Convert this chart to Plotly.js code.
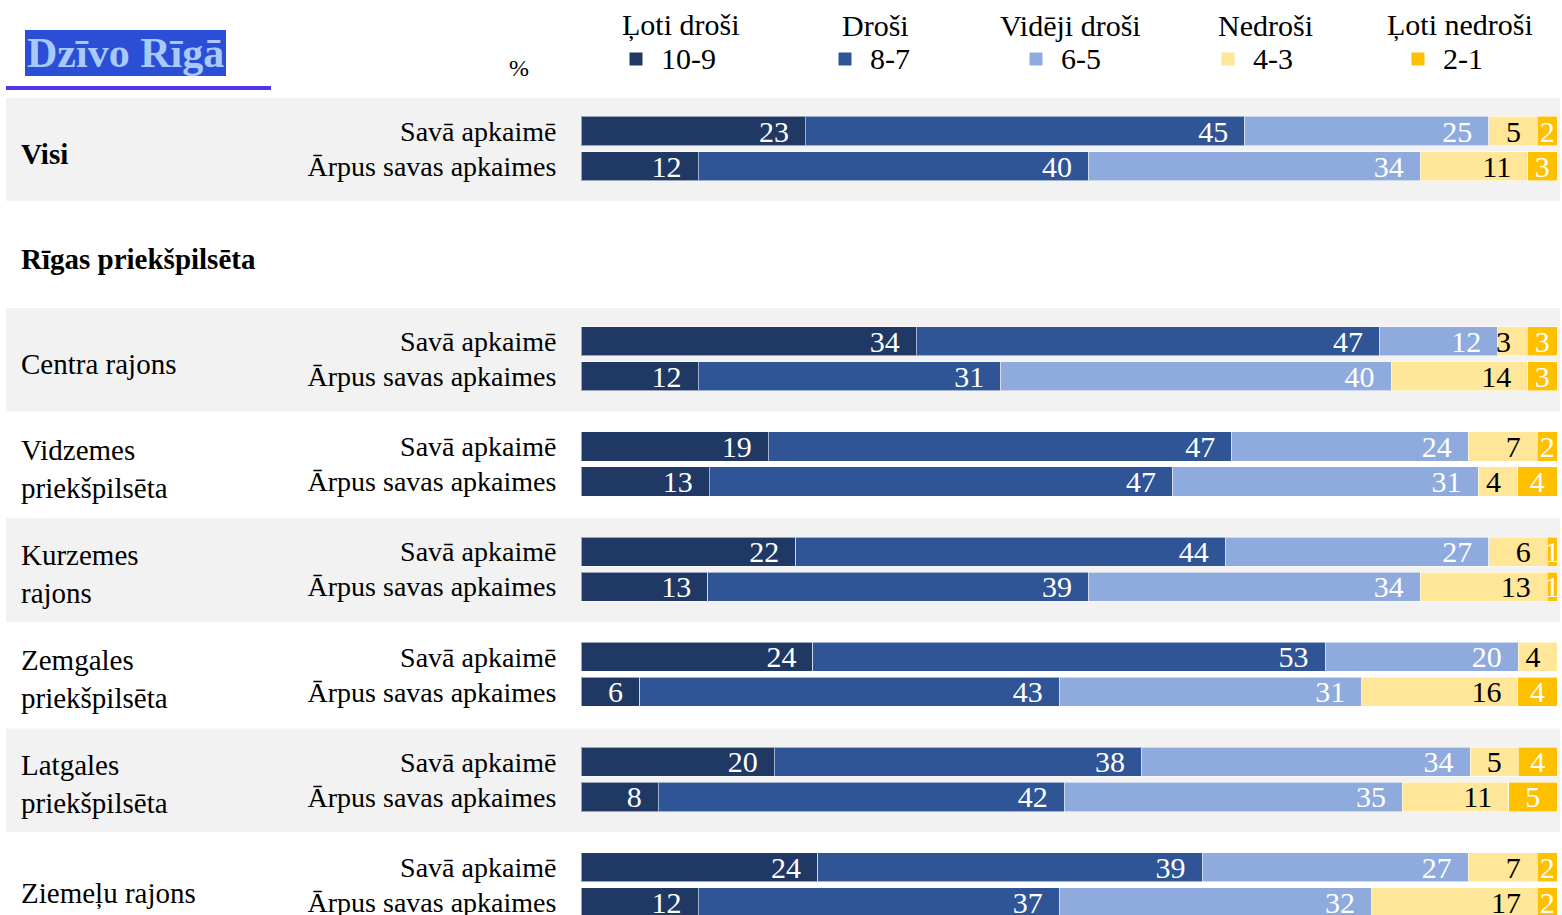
<!DOCTYPE html>
<html>
<head>
<meta charset="utf-8">
<script src="https://cdn.plot.ly/plotly-3.0.1.min.js"></script>
<style>
  html, body { margin: 0; padding: 0; background: #ffffff; }
  #chart { width: 1562px; height: 915px; }
</style>
</head>
<body>
<div id="chart"></div>
<script>
// ---------------- DATA ----------------
const groupNames = ['Visi', 'Rīgas priekšpilsēta', 'Centra rajons', 'Vidzemes<br>priekšpilsēta',
  'Kurzemes<br>rajons', 'Zemgales<br>priekšpilsēta', 'Latgales<br>priekšpilsēta', 'Ziemeļu rajons'];
const boldGroups = ['Visi', 'Rīgas priekšpilsēta'];
const headerOnlyGroups = ['Rīgas priekšpilsēta'];
const shadedGroups = ['Visi', 'Centra rajons', 'Kurzemes<br>rajons', 'Latgales<br>priekšpilsēta'];
const rowTypes = ['Savā apkaimē', 'Ārpus savas apkaimes'];

const seriesNames = ['Ļoti droši', 'Droši', 'Vidēji droši', 'Nedroši', 'Ļoti nedroši'];
const seriesCodes = ['10-9', '8-7', '6-5', '4-3', '2-1'];

// rows: Visi (savā, ārpus), Centra, Vidzemes, Kurzemes, Zemgales, Latgales, Ziemeļu
const v10_9 = [23, 12, 34, 12, 19, 13, 22, 13, 24, 6, 20, 8, 24, 12];
const v8_7  = [45, 40, 47, 31, 47, 47, 44, 39, 53, 43, 38, 42, 39, 37];
const v6_5  = [25, 34, 12, 40, 24, 31, 27, 34, 20, 31, 34, 35, 27, 32];
const v4_3  = [5, 11, 3, 14, 7, 4, 6, 13, 4, 16, 5, 11, 7, 17];
const v2_1  = [2, 3, 3, 3, 2, 4, 1, 1, 0, 4, 4, 5, 2, 2];

// ---------------- STYLE ----------------
const seriesValues = [v10_9, v8_7, v6_5, v4_3, v2_1];
const seriesColors = ['#203864', '#2F5597', '#8FAADC', '#FFE699', '#FFC000'];
const labelColors = ['#FFFFFF', '#FFFFFF', '#FFFFFF', '#000000', '#FFFFFF'];
const labelAnchors = ['end', 'end', 'end', 'end', 'middle'];
const FONT = '"Liberation Serif", "Times New Roman", serif';
const PAD = '\u00a0\u2009';
const SLOT = 3; // rows per group slot

// row positions
const rowY = [];
const tickVals = [];
const tickText = [];
groupNames.forEach((g, gi) => {
  if (headerOnlyGroups.includes(g)) return;
  rowTypes.forEach((r, ri) => {
    rowY.push(gi * SLOT + ri);
    tickVals.push(gi * SLOT + ri);
    tickText.push(r);
  });
});

const traces = seriesValues.map((vals, si) => ({
  type: 'bar',
  orientation: 'h',
  name: seriesCodes[si],
  x: vals,
  y: rowY,
  width: 0.83,
  marker: { color: seriesColors[si], line: { color: 'rgba(255,255,255,0.55)', width: 1 } },
  text: vals.map(v => v > 0 ? (labelAnchors[si] === 'end' ? String(v) + PAD : String(v)) : ''),
  textposition: 'inside',
  insidetextanchor: labelAnchors[si],
  constraintext: 'none',
  textangle: 0,
  textfont: { family: FONT, size: 30, color: labelColors[si] },
  hoverinfo: 'skip',
  showlegend: false
}));

// geometry helpers (layout only)
const W = 1562, H = 915, L = 581, R = 5;
const px = p => (p - L) / (W - L - R);
const py = p => 1 - p / H;

const shapes = [];
const annotations = [];

// shaded group bands
groupNames.forEach((g, gi) => {
  if (!shadedGroups.includes(g)) return;
  shapes.push({
    type: 'rect', layer: 'below', xref: 'paper', yref: 'y',
    x0: px(6), x1: px(1560), y0: gi * SLOT - 0.95, y1: gi * SLOT + 2.0,
    fillcolor: '#F2F2F2', line: { width: 0 }
  });
});

// group labels
groupNames.forEach((g, gi) => {
  const bold = boldGroups.includes(g);
  const last = gi === groupNames.length - 1;
  annotations.push({
    xref: 'paper', yref: 'y', x: px(19), y: gi * SLOT + 0.5, yshift: last ? -9 : -5,
    xanchor: 'left', yanchor: 'middle', align: 'left', showarrow: false,
    text: bold ? '<b>' + g + '</b>' : g,
    font: { family: FONT, size: 29, color: '#000000' }
  });
});

// title box
shapes.push({ type: 'rect', xref: 'paper', yref: 'paper', x0: px(25), x1: px(226), y0: py(76), y1: py(30),
  fillcolor: '#2A4FD6', line: { width: 0 } });
shapes.push({ type: 'rect', xref: 'paper', yref: 'paper', x0: px(6), x1: px(271), y0: py(90), y1: py(86),
  fillcolor: '#5036EA', line: { width: 0 } });
annotations.push({
  xref: 'paper', yref: 'paper', x: px(125.5), y: py(53), xanchor: 'center', yanchor: 'middle',
  showarrow: false, text: '<b>Dzīvo Rīgā</b>', font: { family: FONT, size: 42, color: '#A9C9FB' }
});
annotations.push({
  xref: 'paper', yref: 'paper', x: px(519), y: py(68), xanchor: 'center', yanchor: 'middle',
  showarrow: false, text: '%', font: { family: FONT, size: 24, color: '#000000' }
});

// custom legend
const legendCenters = [681, 875, 1070, 1265, 1460];
const legendSquares = [636, 845, 1036, 1228, 1418];
seriesNames.forEach((n, i) => {
  annotations.push({
    xref: 'paper', yref: 'paper', x: px(legendCenters[i]), y: py(25), xanchor: 'center', yanchor: 'middle',
    showarrow: false, text: n, font: { family: FONT, size: 30, color: '#000000' }
  });
  annotations.push({
    xref: 'paper', yref: 'paper', x: px(legendSquares[i] + 23), y: py(59), xanchor: 'left', yanchor: 'middle',
    showarrow: false, text: seriesCodes[i], font: { family: FONT, size: 30, color: '#000000' }
  });
  shapes.push({
    type: 'rect', xref: 'paper', yref: 'paper',
    x0: px(legendSquares[i] - 6.5), x1: px(legendSquares[i] + 6.5), y0: py(65.5), y1: py(52.5),
    fillcolor: seriesColors[i], line: { width: 0 }
  });
});

const layout = {
  width: W, height: H,
  margin: { l: L, r: R, t: 0, b: 0, pad: 0 },
  paper_bgcolor: '#FFFFFF', plot_bgcolor: 'rgba(0,0,0,0)',
  barmode: 'stack', barnorm: 'percent',
  showlegend: false,
  xaxis: { range: [0, 100], showgrid: false, zeroline: false, showline: false, showticklabels: false, fixedrange: true },
  yaxis: {
    range: [22.368, -3.738], tickmode: 'array', tickvals: tickVals, ticktext: tickText,
    ticks: 'outside', ticklen: 18, tickcolor: 'rgba(0,0,0,0)', showgrid: false, zeroline: false, showline: false,
    ticklabeloverflow: 'allow',
    tickfont: { family: FONT, size: 28, color: '#000000' }, fixedrange: true
  },
  font: { family: FONT },
  shapes: shapes,
  annotations: annotations
};

Plotly.newPlot('chart', traces, layout, { displayModeBar: false, staticPlot: true });
</script>
</body>
</html>
